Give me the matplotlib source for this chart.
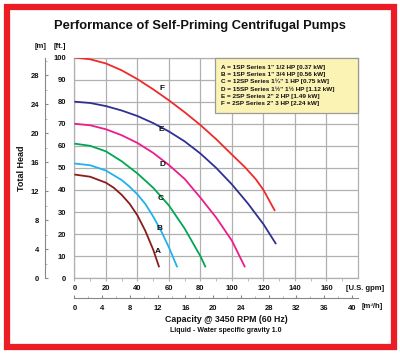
import matplotlib
matplotlib.use("Agg")
import matplotlib.pyplot as plt
from matplotlib import font_manager
from matplotlib.patches import Rectangle

# curve data (U.S. gpm, ft)
a_gpm = [0, 10, 20, 25, 30, 35, 40, 45, 50, 53.8]
a_ft = [47, 46, 43.3, 41, 37.8, 33.8, 28.5, 21.5, 13, 5]
b_gpm = [0, 10, 20, 30, 35, 40, 45, 50, 55, 60, 65.3]
b_ft = [52, 51.2, 48.8, 44.5, 41.5, 38, 33.7, 28, 21.5, 14, 5]
c_gpm = [0, 10, 20, 30, 40, 50, 60, 70, 80, 83.3]
c_ft = [61, 60, 57.5, 53, 47.5, 41, 33, 22.5, 10, 5]
d_gpm = [0, 10, 20, 30, 40, 50, 60, 70, 80, 90, 100, 108.3]
d_ft = [70, 69.3, 67.5, 64.8, 61.3, 56.8, 51.3, 45, 36.5, 27.5, 17, 5]
e_gpm = [0, 10, 20, 30, 40, 50, 60, 70, 80, 90, 100, 110, 120, 128]
e_ft = [80, 79.4, 78, 76, 73.5, 70.3, 66.5, 62, 56.5, 50, 42.5, 34, 24.5, 15.5]
f_gpm = [0, 10, 20, 30, 40, 50, 60, 70, 80, 90, 100, 108, 115, 120, 127.3]
f_ft = [100, 99.2, 97.3, 94.2, 90.2, 85.6, 80.6, 75.2, 69.4, 63, 56, 50.5, 45, 40, 30.5]

curve_names = ["A", "B", "C", "D", "E", "F"]
curve_colors = ["#8b1c1c", "#1fb3ec", "#00a650", "#ec1c8c", "#2e3192", "#ee2a2a"]
label_pos = [(53, 12), (54, 22.7), (55, 36), (56, 51.7), (55.4, 67.4), (55.4, 86)]

legend_lines = [
    'A = 1SP Series 1" 1/2 HP [0.37 kW]',
    'B = 1SP Series 1" 3/4 HP [0.56 kW]',
    'C = 12SP Series 1\u00bc" 1 HP [0.75 kW]',
    'D = 15SP Series 1\u00bd" 1\u00bd HP [1.12 kW]',
    'E = 2SP Series 2" 2 HP [1.49 kW]',
    'F = 2SP Series 2" 3 HP [2.24 kW]',
]

gpm_ticks = [0, 20, 40, 60, 80, 100, 120, 140, 160]
ft_ticks = [0, 10, 20, 30, 40, 50, 60, 70, 80, 90, 100]
m_ticks = [0, 4, 8, 12, 16, 20, 24, 28]
m3h_ticks = [0, 4, 8, 12, 16, 20, 24, 28, 32, 36, 40]

names = {f.name for f in font_manager.fontManager.ttflist}
plt.rcParams["font.family"] = ["Liberation Sans", "DejaVu Sans"]
narrow = "Liberation Sans Narrow" in names
title_font = "Liberation Sans Narrow" if narrow else "Liberation Sans"

grid_c = "#b0b0b0"
txt_c = "#111111"

fig = plt.figure(figsize=(4.0, 3.53), dpi=100)
ax = fig.add_axes([0.186, 0.2116, 0.709, 0.6255])

xs = [a_gpm, b_gpm, c_gpm, d_gpm, e_gpm, f_gpm]
ys = [a_ft, b_ft, c_ft, d_ft, e_ft, f_ft]
for x, y, c in zip(xs, ys, curve_colors):
    ax.plot(x, y, color=c, lw=1.3, solid_capstyle="butt",
            solid_joinstyle="round", zorder=3)
for n, (lx, ly) in zip(curve_names, label_pos):
    ax.text(lx, ly, n, fontsize=6, fontweight="bold", color=txt_c,
            ha="center", va="center", zorder=4)

ax.set_xlim(0, 180)
ax.set_ylim(0, 100)
ax.set_xticks(gpm_ticks)
ax.set_xticks(range(10, 180, 20), minor=True)
ax.set_yticks(ft_ticks)
ax.grid(True, which="major", color=grid_c, lw=0.9)
ax.set_axisbelow(True)
for s in ax.spines.values():
    s.set_color(grid_c)
    s.set_linewidth(0.9)
ax.tick_params(axis="x", which="both", length=2, color=grid_c, pad=2.5,
               labelsize=5.5, labelcolor=txt_c)
ax.tick_params(axis="y", length=0, pad=6, labelsize=5.5, labelcolor=txt_c)
for lab in ax.get_xticklabels() + ax.get_yticklabels():
    lab.set_fontweight("bold")

# legend box
ax.add_patch(Rectangle((89.2, 74.7), 90.8, 24.9, facecolor="#fbf3b4",
                       edgecolor="#9a9a9a", lw=0.9, zorder=5, clip_on=False))
for i, line in enumerate(legend_lines):
    ax.text(93, 95.6 - i * 3.3, line, fontsize=4.6, fontweight="bold",
            color=txt_c, va="center", ha="left", zorder=6)

# metres axis
axm = fig.add_axes([0.1125, 0.2116, 0.0001, 0.6255])
axm.set_ylim(0, 100 / 3.281)
axm.set_xticks([])
axm.set_yticks(m_ticks)
axm.set_yticks(range(2, 31, 2), minor=True)
for k in ["top", "right", "bottom"]:
    axm.spines[k].set_visible(False)
axm.spines["left"].set_color("#888888")
axm.spines["left"].set_linewidth(0.8)
axm.tick_params(axis="y", which="major", direction="in", length=2.5,
                color="#888888", labelsize=5.5, labelcolor=txt_c, pad=4)
axm.tick_params(axis="y", which="minor", direction="in", length=1.5,
                color="#aaaaaa")
for lab in axm.get_yticklabels():
    lab.set_fontweight("bold")

# m3/h axis
axq = fig.add_axes([0.186, 0.156, 0.709, 0.0001])
axq.set_xlim(0, 180 * 0.2271)
axq.set_yticks([])
axq.set_xticks(m3h_ticks)
axq.set_xticks(range(2, 41, 2), minor=True)
for k in ["top", "right", "left"]:
    axq.spines[k].set_visible(False)
axq.spines["bottom"].set_color("#888888")
axq.spines["bottom"].set_linewidth(0.8)
axq.tick_params(axis="x", which="major", direction="in", length=2.5,
                color="#888888", labelsize=5.5, labelcolor=txt_c, pad=5)
axq.tick_params(axis="x", which="minor", direction="in", length=1.5,
                color="#aaaaaa")
for lab in axq.get_xticklabels():
    lab.set_fontweight("bold")

# texts
fig.text(0.5, 1 - 26.5 / 353, "Performance of Self-Priming Centrifugal Pumps",
         family=title_font, fontsize=11 if narrow else 9.3, fontweight="bold",
         color=txt_c, ha="center", va="center")
fig.text(41 / 400, 1 - 47 / 353, "[m]", fontsize=5.5, fontweight="bold",
         color=txt_c, ha="center", va="center")
fig.text(60 / 400, 1 - 47 / 353, "[ft.]", fontsize=5.5, fontweight="bold",
         color=txt_c, ha="center", va="center")
fig.text(22 / 400, 1 - 168 / 353, "Total Head", fontsize=6.5, fontweight="bold",
         color=txt_c, ha="center", va="center", rotation=90)
fig.text(365 / 400, 1 - 288 / 353, "[U.S. gpm]", fontsize=5.5, fontweight="bold",
         color=txt_c, ha="center", va="center")
fig.text(372 / 400, 1 - 307 / 353, "[m\u00b3/h]", fontsize=5.5, fontweight="bold",
         color=txt_c, ha="center", va="center")
fig.text(226 / 400, 1 - 320 / 353, "Capacity @ 3450 RPM (60 Hz)", fontsize=6.3,
         fontweight="bold", color=txt_c, ha="center", va="center")
fig.text(226 / 400, 1 - 331 / 353, "Liquid - Water specific gravity 1.0",
         fontsize=5, fontweight="bold", color=txt_c, ha="center", va="center")

# red frame
fig.add_artist(Rectangle((7 / 400, 6 / 353), 387 / 400, 340 / 353,
                         transform=fig.transFigure, fill=False,
                         edgecolor="#ec1c24", lw=4.5))

fig.savefig("out.png", dpi=100)
